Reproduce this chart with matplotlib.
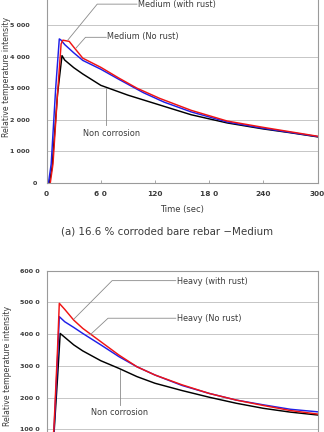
"""Relative temperature intensity vs time, medium / heavy corrosion."""

import matplotlib
matplotlib.use('Agg')
import matplotlib.pyplot as plt
from matplotlib.transforms import ScaledTranslation

# data

# (a) medium
med_nc_t = [3, 6, 12, 17, 20, 30, 40, 60, 90, 125, 160, 200, 240, 270, 300]
med_nc_y = [0, 500, 2800, 4030, 3890, 3650, 3450, 3090, 2780, 2470, 2160, 1900, 1710, 1590, 1460]
med_nr_t = [2, 5, 10, 14, 16, 20, 30, 40, 60, 80, 107, 130, 160, 200, 240, 270, 300]
med_nr_y = [0, 600, 3000, 4560, 4520, 4380, 4120, 3880, 3600, 3280, 2860, 2560, 2250, 1930, 1730, 1600, 1470]
med_wr_t = [4, 7, 12, 16, 18, 25, 30, 40, 60, 80, 100, 125, 160, 200, 240, 270, 300]
med_wr_y = [0, 600, 2800, 4400, 4520, 4480, 4300, 3950, 3660, 3320, 3000, 2680, 2300, 1960, 1760, 1620, 1480]

# (b) heavy
hv_nc_t = [4, 8, 12, 15, 20, 30, 40, 60, 80, 100, 120, 150, 180, 210, 240, 270, 300]
hv_nc_y = [0, 800, 2600, 4020, 3900, 3660, 3470, 3160, 2920, 2660, 2450, 2220, 2010, 1820, 1660, 1540, 1450]
hv_nr_t = [4, 8, 12, 14, 20, 30, 40, 60, 80, 100, 120, 150, 180, 210, 240, 270, 300]
hv_nr_y = [0, 900, 3200, 4550, 4390, 4210, 4020, 3660, 3290, 2970, 2710, 2380, 2130, 1920, 1770, 1630, 1550]
hv_wr_t = [4, 8, 12, 14, 20, 30, 40, 60, 80, 100, 120, 150, 180, 210, 240, 270, 300]
hv_wr_y = [0, 1000, 3500, 4970, 4780, 4440, 4180, 3760, 3340, 2970, 2710, 2400, 2130, 1920, 1750, 1590, 1480]

xticks = [0, 60, 120, 180, 240, 300]
xtick_labels = ['0', '6 0', '120', '18 0', '240', '300']
top_yticks = [0, 1000, 2000, 3000, 4000, 5000]
top_ytick_labels = ['0', '1 000', '2 000', '3 000', '4 000', '5 000']
bot_yticks = [1000, 2000, 3000, 4000, 5000, 6000]
bot_ytick_labels = ['100 0', '200 0', '300 0', '400 0', '500 0', '600 0']

# layout

plt.rcParams['font.family'] = ['DejaVu Sans']
fig = plt.figure(figsize=(3.24, 4.32), dpi=100)
ax1 = fig.add_axes([0.144, 0.5764, 0.836, 0.4389])
ax2 = fig.add_axes([0.144, -0.0671, 0.836, 0.4406])

spine_c = '#9a9a9a'
txt_c = '#3a3a3a'
lead_c = '#8a8a8a'


def style(ax, yticks, ylabels, ypad, xlabels):
    ax.set_xlim(0, 300)
    ax.set_ylim(0, 6000)
    ax.set_xticks(xticks)
    ax.set_xticklabels(xlabels, fontsize=5.3, fontweight='bold', color=txt_c)
    ax.set_yticks(yticks)
    ax.set_yticklabels(ylabels, fontsize=4.6, fontweight='bold', color=txt_c)
    ax.tick_params(axis='x', direction='in', length=2, width=0.6, color=spine_c, pad=5.5)
    ax.tick_params(axis='y', length=0, pad=ypad)
    for s in ax.spines.values():
        s.set_color(spine_c)
        s.set_linewidth(0.8)
    for y in range(1000, 6000, 1000):
        ax.axhline(y, color='#7a7a7a', lw=0.6, ls=(0, (1.2, 1.2)), zorder=0)


style(ax1, top_yticks, top_ytick_labels, 12, xtick_labels)
style(ax2, bot_yticks, bot_ytick_labels, 5, [''] * len(xticks))

# the lone "0" sits further right in the original
zero = ax1.get_yticklabels()[0]
zero.set_transform(zero.get_transform() + ScaledTranslation(0.07, 0, fig.dpi_scale_trans))

lw = 1.05
ax1.plot(med_nc_t, med_nc_y, color='black', lw=lw)
ax1.plot(med_nr_t, med_nr_y, color='#1f1fe8', lw=lw)
ax1.plot(med_wr_t, med_wr_y, color='#f01414', lw=lw)
ax2.plot(hv_nc_t, hv_nc_y, color='black', lw=lw)
ax2.plot(hv_nr_t, hv_nr_y, color='#1f1fe8', lw=lw)
ax2.plot(hv_wr_t, hv_wr_y, color='#f01414', lw=lw)

# leader lines and labels
fs = 5.9
ax1.plot([100, 56, 23.5], [5660, 5660, 4525], color=lead_c, lw=0.6)
ax1.text(101, 5650, 'Medium (with rust)', fontsize=fs, color=txt_c, va='center')
ax1.plot([66, 43, 32.5], [4610, 4610, 4270], color=lead_c, lw=0.6)
ax1.text(67, 4620, 'Medium (No rust)', fontsize=fs, color=txt_c, va='center')
ax1.plot([66, 66], [3010, 1840], color=lead_c, lw=0.6)
ax1.text(72, 1580, 'Non corrosion', fontsize=fs, color=txt_c, va='center', ha='center')

ax2.plot([143, 72.5, 30.3], [5685, 5685, 4477], color=lead_c, lw=0.6)
ax2.text(144, 5660, 'Heavy (with rust)', fontsize=fs, color=txt_c, va='center')
ax2.plot([143, 68, 48], [4500, 4500, 3973], color=lead_c, lw=0.6)
ax2.text(144, 4480, 'Heavy (No rust)', fontsize=fs, color=txt_c, va='center')
ax2.plot([80.7, 80.7], [2870, 1766], color=lead_c, lw=0.6)
ax2.text(81, 1520, 'Non corrosion', fontsize=fs, color=txt_c, va='center', ha='center')

fig.text(0.563, 0.514, 'Time (sec)', fontsize=6, color=txt_c, ha='center', va='center')
fig.text(0.021, 0.822, 'Relative temperature intensity', fontsize=5.6, color=txt_c,
         rotation=90, ha='center', va='center')
fig.text(0.024, 0.153, 'Relative temperature intensity', fontsize=5.6, color=txt_c,
         rotation=90, ha='center', va='center')
fig.text(0.515, 0.465, '(a) 16.6 % corroded bare rebar \u2212Medium', fontsize=7.4,
         color=txt_c, ha='center', va='center')

plt.savefig('out.png', dpi=100)
